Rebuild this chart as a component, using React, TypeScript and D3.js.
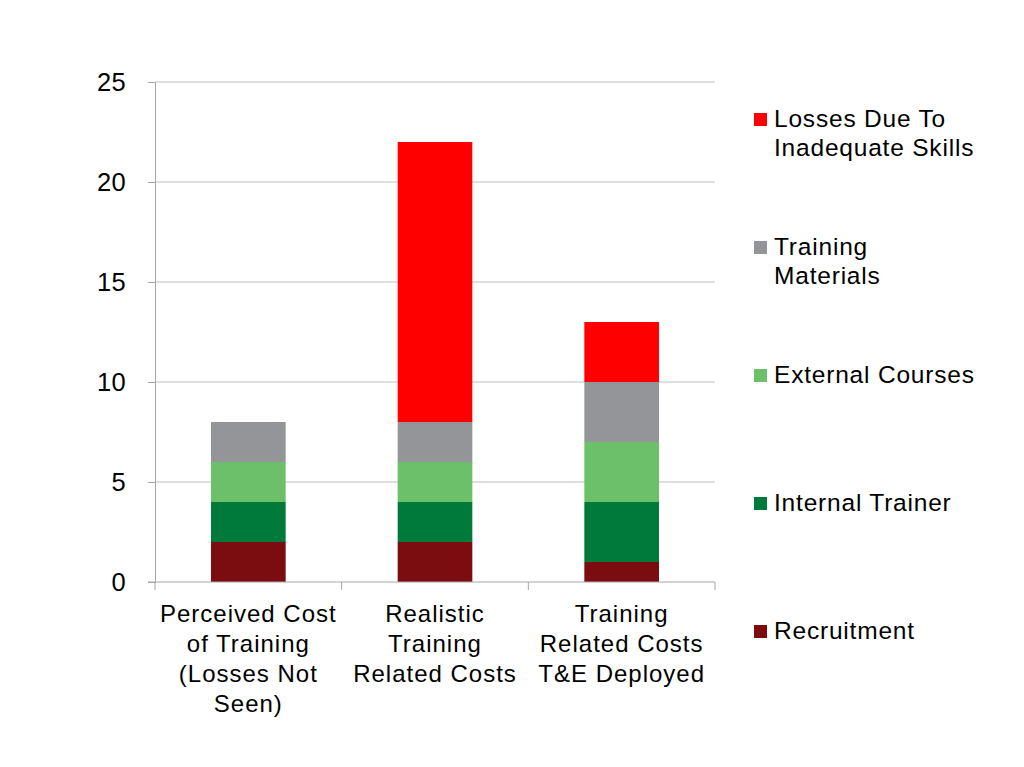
import React, { useRef, useEffect } from 'react';
import * as d3 from 'd3';

const categories = [
    ['Perceived Cost', 'of Training', '(Losses Not', 'Seen)'],
    ['Realistic', 'Training', 'Related Costs'],
    ['Training', 'Related Costs', 'T&E Deployed'],
];
const seriesNames = ['Recruitment', 'Internal Trainer', 'External Courses', 'Training Materials', 'Losses Due To Inadequate Skills'];
const recruitment = [2, 2, 1];
const internalTrainer = [2, 2, 3];
const externalCourses = [2, 2, 3];
const trainingMaterials = [2, 2, 3];
const losses = [0, 14, 3];
const seriesColors = ['#7b0c10', '#007a3b', '#6dc06a', '#939598', '#ff0000'];
const legendLines = [['Recruitment'], ['Internal Trainer'], ['External Courses'], ['Training', 'Materials'], ['Losses Due To', 'Inadequate Skills']];
const yTicks = [0, 5, 10, 15, 20, 25];

const App: React.FC = () => {
    const svgRef = useRef<SVGSVGElement | null>(null);

    useEffect(() => {
        const svg = d3.select(svgRef.current);
        svg.selectAll('*').remove();
        const font = 'Liberation Sans, Arial, sans-serif';

        const left = 155, right = 715, top = 82, bottom = 582;
        const x = d3.scaleBand().domain(d3.range(categories.length).map(String)).range([left, right]).paddingInner(0.6).paddingOuter(0.3);
        const y = d3.scaleLinear().domain([0, 25]).range([bottom, top]);

        const values = [recruitment, internalTrainer, externalCourses, trainingMaterials, losses];
        const rows = categories.map((_, i) => {
            const r: any = { idx: String(i) };
            seriesNames.forEach((s, j) => { r[s] = values[j][i]; });
            return r;
        });
        const stacked = d3.stack().keys(seriesNames)(rows);

        // grid
        svg.append('g').selectAll('line').data(yTicks.slice(1)).enter().append('line')
            .attr('x1', left).attr('x2', right)
            .attr('y1', (d) => y(d)).attr('y2', (d) => y(d))
            .attr('stroke', '#bfbfbf').attr('stroke-width', 1);

        // bars
        stacked.forEach((layer, j) => {
            svg.append('g').selectAll('rect').data(layer).enter().append('rect')
                .attr('x', (d: any) => x(d.data.idx)!)
                .attr('width', x.bandwidth())
                .attr('y', (d: any) => y(d[1]))
                .attr('height', (d: any) => y(d[0]) - y(d[1]))
                .attr('fill', seriesColors[j]);
        });

        // y axis
        const yAxis = svg.append('g').attr('transform', `translate(${left},0)`)
            .call(d3.axisLeft(y).tickValues(yTicks).tickSize(7).tickPadding(22));
        yAxis.select('.domain').attr('stroke', '#a6a6a6');
        yAxis.selectAll('line').attr('stroke', '#a6a6a6');
        yAxis.selectAll('text').attr('font-family', font).attr('font-size', 25.5)
            .attr('letter-spacing', 0.3).attr('fill', '#000');

        // x axis
        svg.append('line').attr('x1', left - 7).attr('x2', right).attr('y1', bottom).attr('y2', bottom)
            .attr('stroke', '#a6a6a6');
        const step = (right - left) / categories.length;
        d3.range(categories.length + 1).forEach((i) => {
            svg.append('line').attr('x1', left + i * step).attr('x2', left + i * step)
                .attr('y1', bottom).attr('y2', bottom + 8).attr('stroke', '#a6a6a6');
        });
        categories.forEach((lines, i) => {
            const t = svg.append('text').attr('text-anchor', 'middle')
                .attr('font-family', font).attr('font-size', 24).attr('letter-spacing', 1)
                .attr('fill', '#000');
            lines.forEach((ln, k) => {
                t.append('tspan').attr('x', x(String(i))! + x.bandwidth() / 2).attr('y', 622 + k * 30).text(ln);
            });
        });

        // legend
        legendLines.forEach((lines, j) => {
            const yy = 631 - j * 128;
            svg.append('rect').attr('x', 754).attr('y', yy - 6).attr('width', 13).attr('height', 13)
                .attr('fill', seriesColors[j]);
            const t = svg.append('text').attr('font-family', font).attr('font-size', 24.5)
                .attr('letter-spacing', 0.8).attr('fill', '#000');
            lines.forEach((ln, k) => {
                t.append('tspan').attr('x', 774).attr('y', yy + 8 + k * 29).text(ln);
            });
        });
    }, []);

    return (
        <svg ref={svgRef} width={1024} height={767}
            style={{ position: 'absolute', left: 0, top: 0, background: '#fff' }} />
    );
};

export default App;
